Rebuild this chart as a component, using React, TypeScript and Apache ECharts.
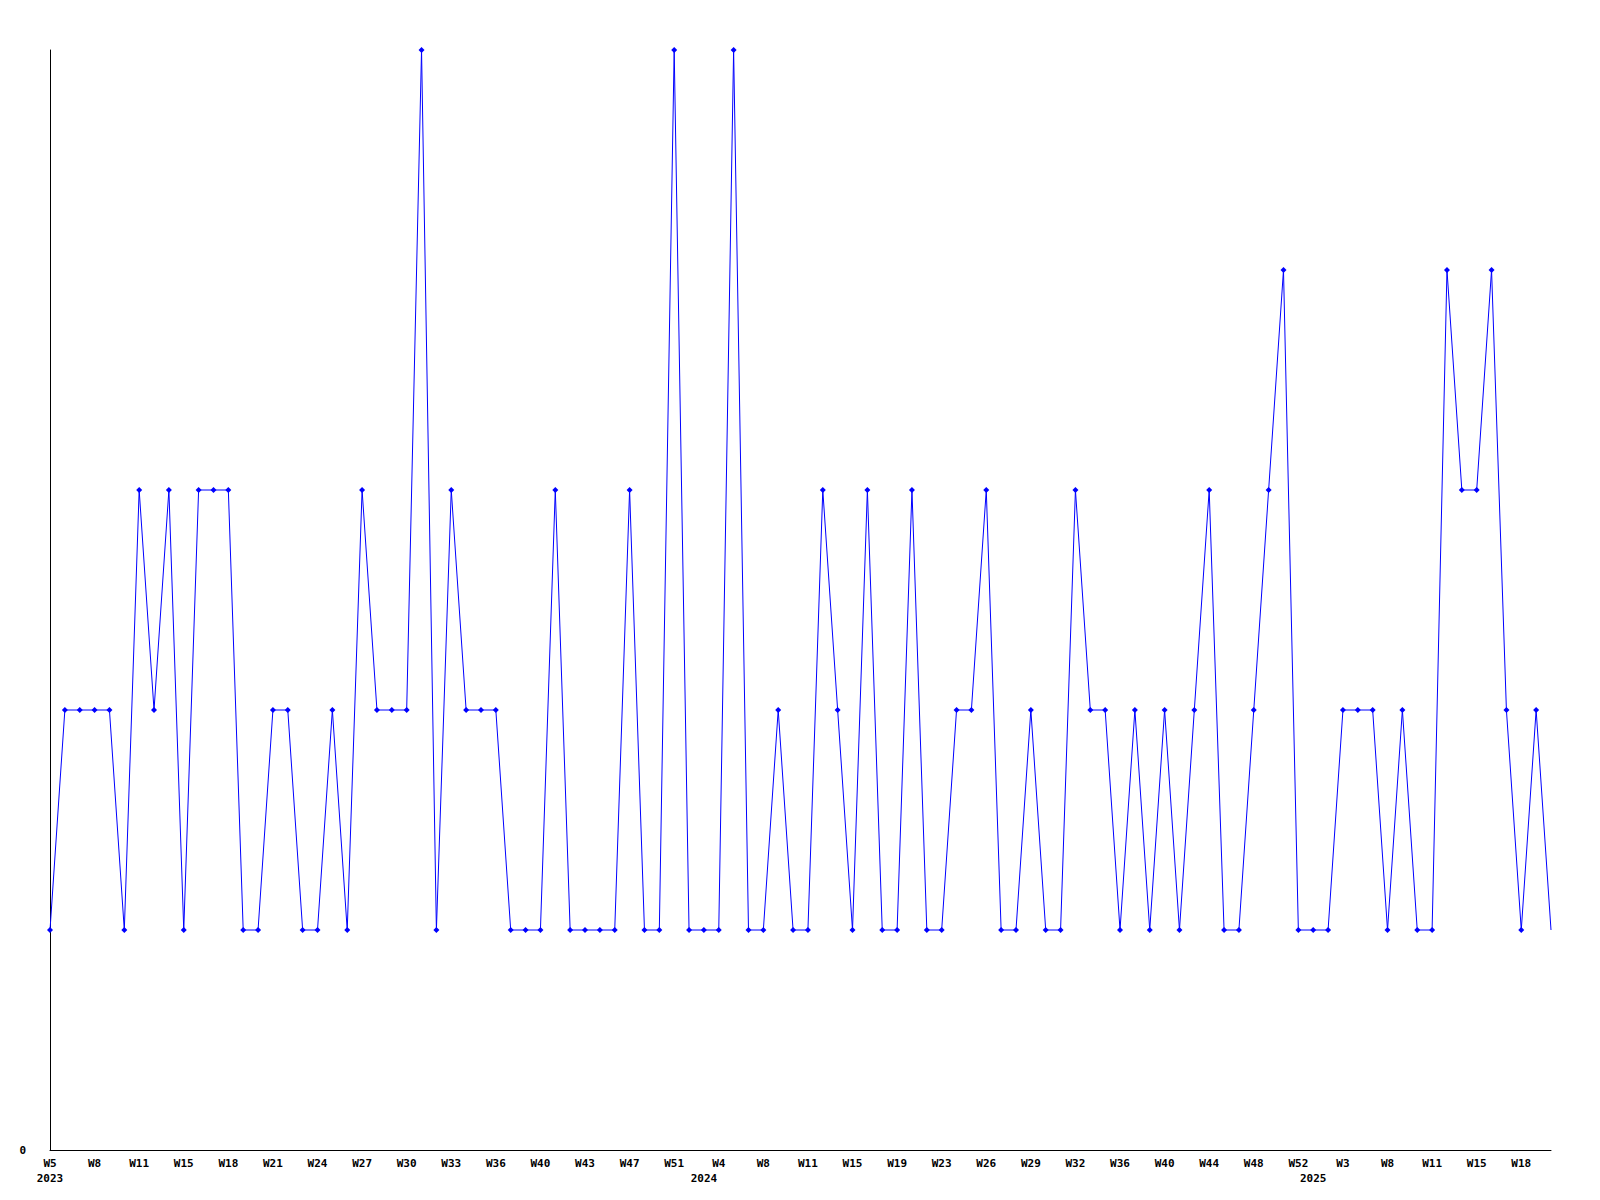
import React, { useEffect, useRef } from "react";
import * as echarts from "echarts";

const weekLabels = [
  "W5", "W8", "W11", "W15", "W18", "W21", "W24", "W27", "W30", "W33", "W36", "W40",
  "W43", "W47", "W51", "W4", "W8", "W11", "W15", "W19", "W23", "W26", "W29", "W32",
  "W36", "W40", "W44", "W48", "W52", "W3", "W8", "W11", "W15", "W18",
];

// year label -> point index where it sits
const yearNames = ["2023", "2024", "2025"];
const yearPositions = [0, 44, 85];

const values = [
  1, 2, 2, 2, 2, 1, 3, 2, 3, 1,
  3, 3, 3, 1, 1, 2, 2, 1, 1, 2,
  1, 3, 2, 2, 2, 5, 1, 3, 2, 2,
  2, 1, 1, 1, 3, 1, 1, 1, 1, 3,
  1, 1, 5, 1, 1, 1, 5, 1, 1, 2,
  1, 1, 3, 2, 1, 3, 1, 1, 3, 1,
  1, 2, 2, 3, 1, 1, 2, 1, 1, 3,
  2, 2, 1, 2, 1, 2, 1, 2, 3, 1,
  1, 2, 3, 4, 1, 1, 1, 2, 2, 2,
  1, 2, 1, 1, 4, 3, 3, 4, 2, 1,
  2, 1,
];

const categories = values.map((_, i) => String(i));

export default function App() {
  const ref = useRef<HTMLDivElement>(null);
  useEffect(() => {
    if (!ref.current) return;
    const chart = echarts.init(ref.current, null, { renderer: "svg" });
    const font = "'DejaVu Sans Mono', monospace";
    const data = values.map((v, i) =>
      i === values.length - 1 ? { value: v, symbol: "none" } : v
    );
    chart.setOption({
      animation: false,
      backgroundColor: "#ffffff",
      grid: { left: 50, right: 49, top: 50, bottom: 50, containLabel: false },
      xAxis: [
        {
          type: "category",
          data: categories,
          boundaryGap: false,
          position: "bottom",
          axisLine: { show: true, lineStyle: { color: "#000000", width: 1 } },
          axisTick: { show: false },
          splitLine: { show: false },
          axisLabel: {
            interval: (i: number) => i % 3 === 0,
            margin: 6,
            fontFamily: font,
            fontWeight: "bold",
            fontSize: 11,
            lineHeight: 15,
            color: "#000000",
            formatter: (v: string) => {
              const i = Number(v);
              return i % 3 === 0 ? weekLabels[i / 3] ?? "" : "";
            },
          },
        },
        {
          type: "category",
          data: categories,
          boundaryGap: false,
          position: "bottom",
          axisLine: { show: false },
          axisTick: { show: false },
          splitLine: { show: false },
          axisLabel: {
            interval: (i: number) => yearPositions.includes(i),
            margin: 21,
            fontFamily: font,
            fontWeight: "bold",
            fontSize: 11,
            lineHeight: 15,
            color: "#000000",
            formatter: (v: string) => {
              const k = yearPositions.indexOf(Number(v));
              return k >= 0 ? yearNames[k] : "";
            },
          },
        },
      ],
      yAxis: {
        type: "value",
        min: 0,
        max: 5,
        interval: 5,
        axisLine: { show: true, lineStyle: { color: "#000000", width: 1 } },
        axisTick: { show: false },
        splitLine: { show: false },
        axisLabel: {
          margin: 24,
          fontFamily: font,
          fontWeight: "bold",
          fontSize: 11,
          color: "#000000",
          formatter: (v: number) => (v === 0 ? "0" : ""),
        },
      },
      series: [
        {
          type: "line",
          xAxisIndex: 0,
          data,
          symbol: "diamond",
          symbolSize: 6,
          showAllSymbol: true,
          lineStyle: { color: "#0000ff", width: 1 },
          itemStyle: { color: "#0000ff" },
        },
      ],
    });
    return () => chart.dispose();
  }, []);
  return (
    <div
      ref={ref}
      style={{ position: "absolute", left: 0, top: 0, width: 1600, height: 1200, background: "#fff" }}
    />
  );
}
